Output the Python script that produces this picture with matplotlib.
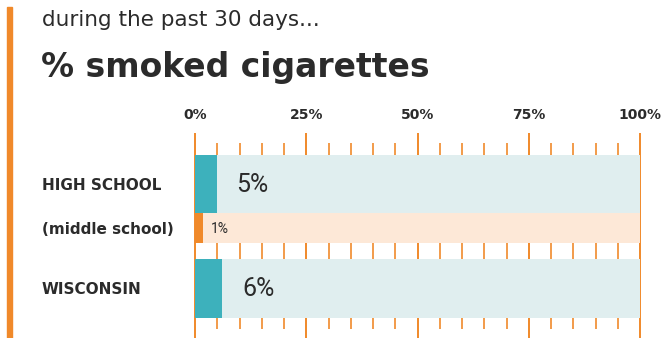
import matplotlib
matplotlib.use("Agg")
import matplotlib.pyplot as plt
from matplotlib.patches import Rectangle

W, H = 662, 338

groups = ["HIGH SCHOOL", "(middle school)", "WISCONSIN"]
values = [4.9, 1.7, 6.1]
value_labels = ["5%", "1%", "6%"]
tick_values = [0, 25, 50, 75, 100]
tick_labels = ["0%", "25%", "50%", "75%", "100%"]

TEAL = "#3db1bc"
TEAL_LIGHT = "#e0eeef"
ORANGE = "#f0892a"
ORANGE_LIGHT = "#fde8d7"
DARK = "#2b2b2b"


def fx(x):
    return x / W


def fy(y):
    return 1 - y / H


fig = plt.figure(figsize=(W / 100, H / 100), dpi=100)
fig.patch.set_facecolor("white")

# orange accent strip on the left
fig.patches.append(Rectangle((fx(7), fy(338)), fx(5), fy(7) - fy(338),
                             transform=fig.transFigure, color=ORANGE, zorder=0))

fig.text(fx(42), fy(20), "during the past 30 days...", fontsize=15.5,
         family="DejaVu Sans", color=DARK, va="center", ha="left")
fig.text(fx(41), fy(68), "% smoked cigarettes", fontsize=23.8, weight="bold",
         family="DejaVu Sans", color=DARK, va="center", ha="left")

# axes: x in percent, y in pixel rows (inverted)
ax = fig.add_axes([fx(195), 0, fx(640) - fx(195), fy(133)])
ax.set_xlim(0, 100)
ax.set_ylim(338, 133)
ax.axis("off")

for t in range(0, 101, 5):
    if t % 25 == 0:
        ax.vlines(t, 133, 338, color=ORANGE, lw=1.4, zorder=1, clip_on=False)
    else:
        ax.vlines(t, 143, 329, color=ORANGE, lw=1.4, alpha=0.85, zorder=1,
                  clip_on=False)

centers = [184, 228, 288.5]
heights = [58, 30, 59]
fills = [TEAL, ORANGE, TEAL]
tracks = [TEAL_LIGHT, ORANGE_LIGHT, TEAL_LIGHT]
label_sizes = [18, 10, 18]
label_offsets = [19, 8, 20]

for i, g in enumerate(groups):
    ax.barh(centers[i], 100, height=heights[i], color=tracks[i], zorder=2)
    ax.barh(centers[i], values[i], height=heights[i], color=fills[i], zorder=3)
    ax.annotate(value_labels[i], (values[i], centers[i] + 1),
                xytext=(label_offsets[i], 0), textcoords="offset pixels",
                fontsize=label_sizes[i], family="Roboto",
                color=DARK, va="center", ha="left", zorder=4)
    fig.text(fx(42), fy(centers[i] + 1), g, fontsize=11,
             weight="bold", family="DejaVu Sans", color=DARK,
             va="center", ha="left")

for v, lab in zip(tick_values, tick_labels):
    fig.text(fx(195 + v * 4.45), fy(115), lab, fontsize=10, weight="bold",
             family="DejaVu Sans", color=DARK, va="center", ha="center")

fig.savefig("out.png", dpi=100)
